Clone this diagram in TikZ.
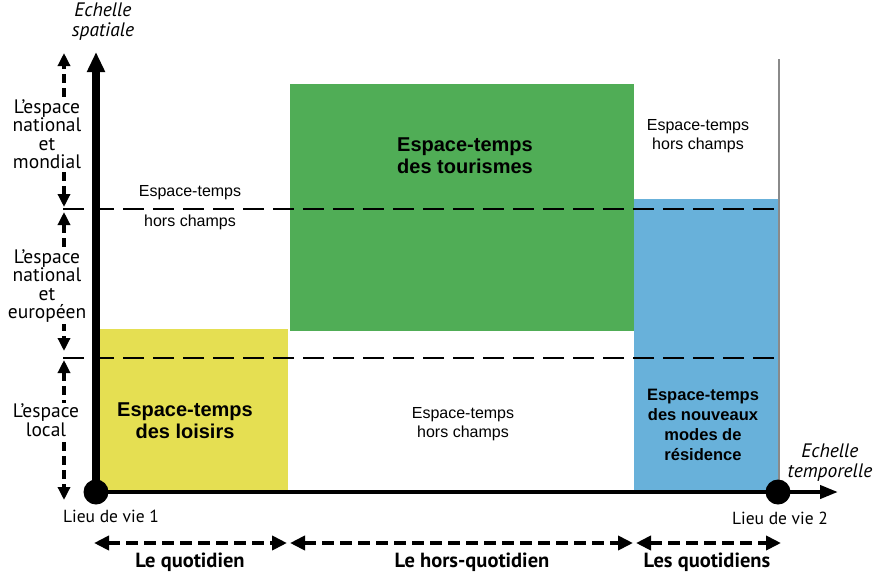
\documentclass[tikz,border=0pt]{standalone}
\usepackage{fontspec}
\setmainfont{Liberation Sans}
\newfontfamily\axfont{PT Sans}
\usetikzlibrary{arrows.meta}
\definecolor{cyellow}{HTML}{E5DF52}
\definecolor{cgreen}{HTML}{50AD56}
\definecolor{cblue}{HTML}{68B1DA}
\definecolor{cgray}{HTML}{8A8A8A}
\tikzset{
  boxtxt/.style={align=center,font=\fontsize{16}{19}\selectfont,inner sep=1pt},
  boldtxt/.style={align=center,font=\fontsize{20}{22}\selectfont\bfseries,inner sep=1pt},
  boldsm/.style={align=center,font=\fontsize{16.5}{20}\selectfont\bfseries,inner sep=1pt},
  axtxt/.style={align=center,font=\axfont\fontsize{17.5}{18}\selectfont,inner sep=1pt},
  axital/.style={align=center,font=\axfont\fontsize{19.5}{20}\selectfont\itshape,inner sep=1pt},
  axbold/.style={align=center,font=\axfont\fontsize{20.5}{22}\selectfont\bfseries,inner sep=1pt},
  sidetxt/.style={align=center,font=\axfont\fontsize{19.5}{18.5}\selectfont,fill=white,inner sep=1pt},
  levelline/.style={line width=2.8pt,dash pattern=on 21pt off 9pt},
  dasharrow/.style={line width=3.6pt,dash pattern=on 9pt off 5pt,
     {Triangle[length=13pt,width=12pt]}-{Triangle[length=13pt,width=12pt]}},
  perarrow/.style={line width=4.5pt,dash pattern=on 12pt off 6pt,
     {Triangle[length=15pt,width=14pt]}-{Triangle[length=15pt,width=14pt]}},
  dot/.style={circle,fill=black,minimum size=25pt,inner sep=0pt}
}
\begin{document}
\begin{tikzpicture}[x=1pt,y=-1pt]
\useasboundingbox (0,0) rectangle (876,574);
% rectangles
\fill[cyellow] (100,329) rectangle (288,491);
\fill[cgreen] (290,84) rectangle (634,331);
\fill[cblue] (634,199) rectangle (778,491);
% gray right line
\coordinate (gtop) at (779,59);
\coordinate (gbot) at (779,493);
\draw[cgray,line width=2pt] (gtop) -- (gbot);
% level lines
\coordinate (l1a) at (63,209); \coordinate (l1b) at (779,209);
\coordinate (l2a) at (63,358); \coordinate (l2b) at (779,358);
\draw[levelline] (l1a) -- (l1b);
\draw[levelline] (l2a) -- (l2b);
% axes
\node[dot] (o) at (96,492) {};
\node[dot] (p2) at (778,492) {};
\coordinate (ytip) at (96,52);
\coordinate (xtip) at (838,492);
\draw[line width=4pt,-{Triangle[length=18pt,width=13pt]}] (o.center) -- (xtip);
\draw[line width=8pt,-{Triangle[length=20pt,width=17pt]}] (o.center) -- (ytip);
% left level arrows
\coordinate (a1) at (64,53); \coordinate (a2) at (64,207);
\coordinate (b1) at (64,212); \coordinate (b2) at (64,351);
\coordinate (c1) at (64,360); \coordinate (c2) at (64,500);
\draw[dasharrow] (a2) -- (a1);
\draw[dasharrow] (b1) -- (b2);
\draw[dasharrow] (c1) -- (c2);
\node[sidetxt] (t1) at (47,134) {L’espace\\national\\et\\mondial};
\node[sidetxt] (t2) at (47,286) {L’espace\\national\\et\\européen};
\node[sidetxt] (t3) at (46,420) {L’espace\\local};
% bottom period arrows
\coordinate (q1) at (94,543); \coordinate (q2) at (287,543);
\coordinate (h1) at (290,543); \coordinate (h2) at (633,543);
\coordinate (s1) at (636,543); \coordinate (s2) at (781,543);
\draw[perarrow] (q1) -- (q2);
\draw[perarrow] (h1) -- (h2);
\draw[perarrow] (s1) -- (s2);
\node[axbold] (lq) at (190,562) {Le quotidien};
\node[axbold] (lh) at (472,562) {Le hors-quotidien};
\node[axbold] (ls) at (707,562) {Les quotidiens};
% axis labels
\node[axital] (es) at (103,22) {Echelle\\spatiale};
\node[axital] (et) at (830,463) {Echelle\\temporelle};
\node[axtxt] (lv1) at (111,516) {Lieu de vie 1};
\node[axtxt] (lv2) at (780,518) {Lieu de vie 2};
% box texts
\node[boxtxt] (hc1a) at (190,193) {Espace-temps};
\node[boxtxt] (hc1b) at (190,222) {hors champs};
\node[boxtxt] (hc2) at (463,424) {Espace-temps\\hors champs};
\node[boxtxt] (hc3) at (698,136) {Espace-temps\\hors champs};
\node[boldtxt] (tour) at (465,156) {Espace-temps\\des tourismes};
\node[boldtxt] (lois) at (185,421) {Espace-temps\\des loisirs};
\node[boldsm] (res) at (703,425) {Espace-temps\\des nouveaux\\modes de\\résidence};
\end{tikzpicture}
\end{document}
